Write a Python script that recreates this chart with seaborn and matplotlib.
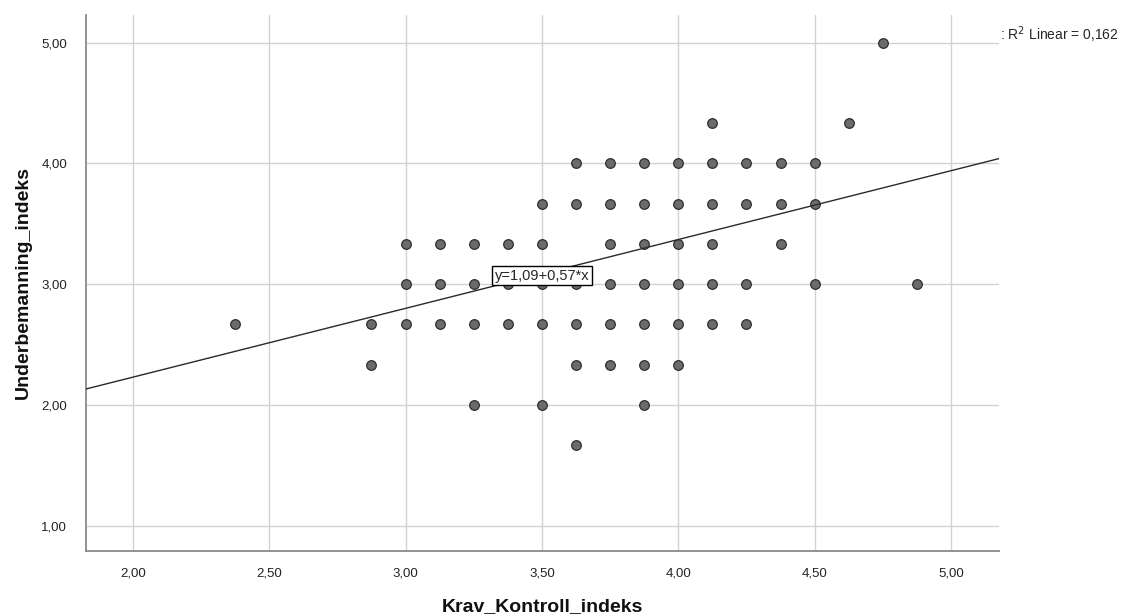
import numpy as np
import pandas as pd
import matplotlib
matplotlib.use("Agg")
import matplotlib.pyplot as plt
import seaborn as sns

# ---- data ----
krav = [
    4.75,
    4.125, 4.625,
    3.625, 3.75, 3.875, 4.0, 4.125, 4.25, 4.375, 4.5,
    3.5, 3.625, 3.75, 3.875, 4.0, 4.125, 4.25, 4.375, 4.5,
    3.0, 3.125, 3.25, 3.375, 3.5, 3.75, 3.875, 4.0, 4.125, 4.375,
    3.0, 3.125, 3.25, 3.375, 3.5, 3.625, 3.75, 3.875, 4.0, 4.125, 4.25, 4.5, 4.875,
    2.375, 2.875, 3.0, 3.125, 3.25, 3.375, 3.5, 3.625, 3.75, 3.875, 4.0, 4.125, 4.25,
    2.875, 3.625, 3.75, 3.875, 4.0,
    3.25, 3.5, 3.875,
    3.625,
]
underbemanning = (
    [5.0]
    + [4.3333] * 2
    + [4.0] * 8
    + [3.6667] * 9
    + [3.3333] * 10
    + [3.0] * 13
    + [2.6667] * 13
    + [2.3333] * 5
    + [2.0] * 3
    + [1.6667] * 1
)
fit_intercept = 1.09
fit_slope = 0.57
r2_linear = "0,162"
x_ticks = [2.0, 2.5, 3.0, 3.5, 4.0, 4.5, 5.0]
y_ticks = [1.0, 2.0, 3.0, 4.0, 5.0]

df = pd.DataFrame({"Krav_Kontroll_indeks": krav, "Underbemanning_indeks": underbemanning})

sns.set_theme(style="white")
plt.rcParams["font.family"] = ["Liberation Sans", "DejaVu Sans"]

fig = plt.figure(figsize=(11.24, 6.14), dpi=100)
ax = fig.add_axes([0.0765, 0.1026, 0.8125, 0.873])

xlim = (1.828, 5.177)
ylim = (0.79, 5.23)
ax.set_xlim(*xlim)
ax.set_ylim(*ylim)

ax.set_xticks(x_ticks)
ax.set_yticks(y_ticks)
ax.set_xticklabels([f"{v:.2f}".replace(".", ",") for v in x_ticks])
ax.set_yticklabels([f"{v:.2f}".replace(".", ",") for v in y_ticks])
ax.grid(True, color="#d2d2d2", linewidth=1.0)
ax.set_axisbelow(True)

sns.scatterplot(data=df, x="Krav_Kontroll_indeks", y="Underbemanning_indeks", ax=ax,
                s=48, color="#6b6b6b", edgecolor="#2e2e2e", linewidth=0.9, zorder=3)

xs = np.array(xlim)
ax.plot(xs, fit_intercept + fit_slope * xs, color="#2a2a2a", linewidth=1.0, zorder=4)

ax.text(3.5, 3.07, "y=1,09+0,57*x", ha="center", va="center", fontsize=10.5, zorder=5,
        bbox=dict(boxstyle="square,pad=0.18", facecolor="white", edgecolor="black", linewidth=1.0))

fig.text(0.8895, 0.944, ": R$^2$ Linear = " + r2_linear, ha="left", va="center", fontsize=10)

for side in ["top", "right"]:
    ax.spines[side].set_visible(False)
for side in ["left", "bottom"]:
    ax.spines[side].set_color("#8a8a8a")
    ax.spines[side].set_linewidth(1.3)

ax.tick_params(axis="x", length=0, labelsize=9.5, colors="#222222", pad=12)
ax.tick_params(axis="y", length=0, labelsize=9.5, colors="#222222", pad=13.5)
ax.set_xlabel("Krav_Kontroll_indeks", fontsize=14, fontweight="bold", color="#111111", labelpad=13)
ax.set_ylabel("Underbemanning_indeks", fontsize=14, fontweight="bold", color="#111111", labelpad=6.5)

fig.savefig("out.png", dpi=100)
